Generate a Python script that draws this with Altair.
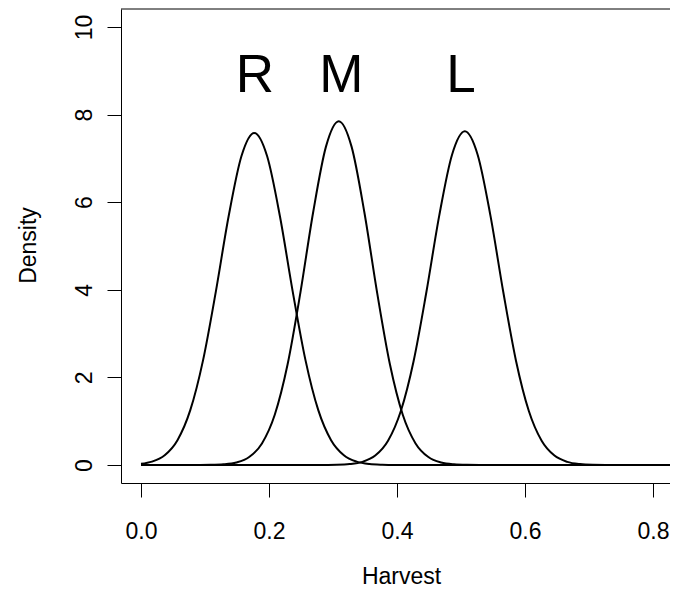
import altair as alt
import pandas as pd

# Curve "R"
r_x = [0.000, 0.017, 0.037, 0.057, 0.077, 0.097, 0.117, 0.137, 0.157, 0.177,
       0.197, 0.217, 0.237, 0.257, 0.277, 0.297, 0.317, 0.337, 0.357, 0.377, 0.397,
       0.45, 0.9]
r_y = [0.027, 0.076, 0.223, 0.567, 1.252, 2.395, 3.965, 5.684, 7.053, 7.58,
       7.053, 5.684, 3.965, 2.395, 1.252, 0.567, 0.223, 0.076, 0.022, 0.006, 0.001,
       0.0, 0.0]

# Curve "M"
m_x = [0.0, 0.069, 0.089, 0.109, 0.129, 0.149, 0.169, 0.189, 0.209, 0.229, 0.249,
       0.269, 0.289, 0.309, 0.329, 0.349, 0.369, 0.389, 0.409, 0.429, 0.449, 0.469,
       0.489, 0.509, 0.529, 0.6, 0.9]
m_y = [0.0, 0.0, 0.001, 0.004, 0.016, 0.057, 0.181, 0.493, 1.148, 2.294, 3.930,
       5.771, 7.269, 7.85, 7.269, 5.771, 3.930, 2.294, 1.148, 0.493, 0.181, 0.057,
       0.016, 0.004, 0.001, 0.0, 0.0]

# Curve "L"
l_x = [0.0, 0.2, 0.266, 0.286, 0.306, 0.326, 0.346, 0.366, 0.386, 0.406, 0.426,
       0.446, 0.466, 0.486, 0.506, 0.526, 0.546, 0.566, 0.586, 0.606, 0.626, 0.646,
       0.666, 0.686, 0.706, 0.726, 0.78, 0.9]
l_y = [0.0, 0.0, 0.0, 0.001, 0.005, 0.021, 0.072, 0.215, 0.554, 1.233, 2.376,
       3.956, 5.694, 7.085, 7.62, 7.085, 5.694, 3.956, 2.376, 1.233, 0.554, 0.215,
       0.072, 0.021, 0.005, 0.001, 0.0, 0.0]

# Text labels above the peaks
label_text = ["R", "M", "L"]
label_x = [0.178, 0.313, 0.5]
label_y = [9, 9, 9]

x_ticks = [0.0, 0.2, 0.4, 0.6, 0.8]
y_ticks = [0, 2, 4, 6, 8, 10]

curves = pd.concat([
    pd.DataFrame({"x": r_x, "y": r_y, "curve": "R"}),
    pd.DataFrame({"x": m_x, "y": m_y, "curve": "M"}),
    pd.DataFrame({"x": l_x, "y": l_y, "curve": "L"}),
], ignore_index=True)
labels = pd.DataFrame({"x": label_x, "y": label_y, "label": label_text})

FONT = "Liberation Sans"
W, H = 560, 474

x_scale = alt.Scale(domain=[-0.03125, 0.84375], nice=False, zero=False)
y_scale = alt.Scale(domain=[-0.411, 10.411], nice=False, zero=False)

x_axis = alt.Axis(values=x_ticks, format=".1f", title="Harvest", tickSize=14,
                  labelPadding=41, labelBaseline="alphabetic", labelFlush=False,
                  labelOverlap=False,
                  titleX=280, titleY=100, titleAlign="center",
                  titleBaseline="alphabetic")
y_axis = alt.Axis(values=y_ticks, format="d", title="Density", tickSize=14,
                  labelAngle=270, labelAlign="center", labelBaseline="alphabetic",
                  labelPadding=16, labelFlush=False, labelOverlap=False,
                  titleAngle=270, titleX=-86, titleY=236, titleAlign="center",
                  titleBaseline="alphabetic")

lines = alt.Chart(curves).mark_line(
    color="black", strokeWidth=2, clip=True, interpolate="monotone"
).encode(
    x=alt.X("x:Q", scale=x_scale, axis=x_axis),
    y=alt.Y("y:Q", scale=y_scale, axis=y_axis),
    detail="curve:N",
)

top_border = alt.Chart(pd.DataFrame({"a": [0]})).mark_rule(
    color="black", strokeWidth=1
).encode(x=alt.value(0), x2=alt.value(W), y=alt.value(0))

text = alt.Chart(labels).mark_text(
    font=FONT, fontSize=53, baseline="middle", align="center", dy=5, color="black"
).encode(
    x=alt.X("x:Q", scale=x_scale),
    y=alt.Y("y:Q", scale=y_scale),
    text="label:N",
)

chart = alt.layer(lines, top_border, text).properties(
    width=W, height=H,
    autosize=alt.AutoSizeParams(type="none"),
    padding={"left": 113, "top": 1, "right": -11, "bottom": 106},
).configure(background="transparent").configure_view(
    strokeWidth=0, stroke="transparent"
).configure_axis(
    grid=False, domainColor="black", tickColor="black", labelColor="black",
    titleColor="black", labelFont=FONT, titleFont=FONT, labelFontSize=23,
    titleFontSize=23, titleFontWeight="normal", domainWidth=1, tickWidth=1,
)

chart.save("out.html", embed_options={"renderer": "svg", "actions": False})
